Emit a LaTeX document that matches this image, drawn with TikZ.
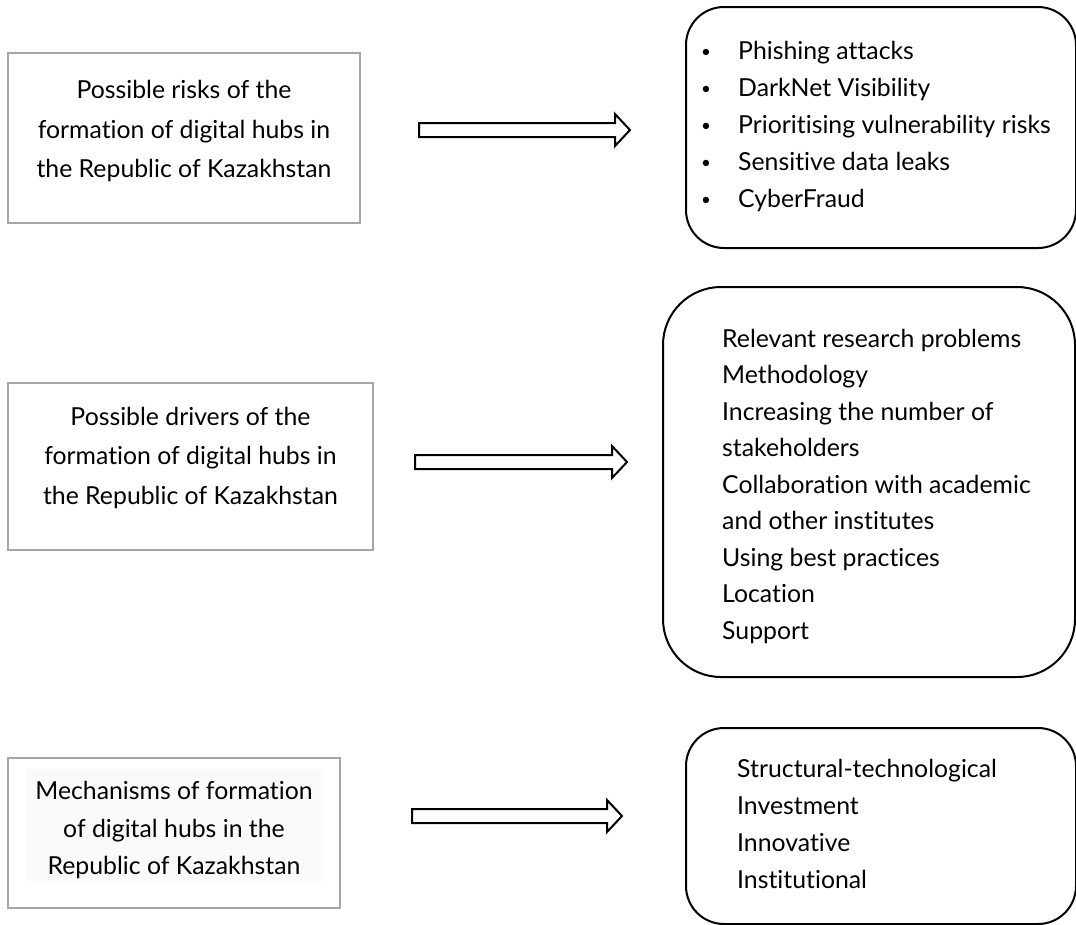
\documentclass[tikz,border=0pt]{standalone}
\usepackage{fontspec}
\setmainfont{Lato}[Ligatures=NoCommon]
\usetikzlibrary{calc}

\tikzset{
	hubbox/.style = {draw=black!35, line width=2.5pt, inner sep=0pt},
	hubtext/.style = {align=center, inner sep=0pt, font=\fontsize{24.8pt}{39.5pt}\selectfont},
	listbox/.style = {draw, line width=2pt, rounded corners=38pt, inner sep=0pt},
	listitem/.style = {anchor=base west, inner sep=0pt, font=\fontsize{24.8pt}{37pt}\selectfont},
	bigarrow/.style = {draw, line width=2pt, fill=white, line join=miter}
}

\begin{document}
\begin{tikzpicture}[x=1pt, y=-1pt]

	\useasboundingbox (0,0) rectangle (1076,924);

% Left boxes.

	\node [hubbox, minimum width=352pt, minimum height=170pt] (risks) at (184, 138) {};
	\node [hubtext, yshift=7pt] (riskstext) at (risks.center)
		{Possible risks of the\\ formation of digital hubs in\\ the Republic of Kazakhstan};

	\node [hubbox, minimum width=365pt, minimum height=167pt] (drivers) at (190.5, 466.5) {};
	\node [hubtext, yshift=9pt] (driverstext) at (drivers.center)
		{Possible drivers of the\\ formation of digital hubs in\\ the Republic of Kazakhstan};

	\node [hubbox, minimum width=332pt, minimum height=150pt] (mechs) at (174, 833) {};
	\fill [black!2] (26, 769) rectangle (323, 881);
	\node [hubtext, font=\fontsize{24.8pt}{37.5pt}\selectfont, yshift=3pt] (mechstext) at (mechs.center)
		{Mechanisms of formation\\ of digital hubs in the\\ Republic of Kazakhstan};

% Right boxes.

	\node [listbox, minimum width=390pt, minimum height=241pt] (risklist) at (881, 127.5) {};
	\node [listbox, rounded corners=58pt, minimum width=412pt, minimum height=390pt] (driverlist) at (869, 482) {};
	\node [listbox, minimum width=390pt, minimum height=196pt] (mechlist) at (881, 826) {};

	% list items
	\foreach \txt [count=\i] in {Phishing attacks, DarkNet Visibility, Prioritising vulnerability risks, Sensitive data leaks, CyberFraud}
	{
		\node [listitem, font=\fontsize{17pt}{17pt}\selectfont] (bullet\i) at (701, {57 + 37*(\i-1)}) {\textbullet};
		\node [listitem] (risk\i) at (738, {59 + 37*(\i-1)}) {\txt};
	}

	\foreach \txt [count=\i] in {Relevant research problems, Methodology, Increasing the number of, stakeholders, Collaboration with academic, and other institutes, Using best practices, Location, Support}
		\node [listitem] (driver\i) at (722, {347 + 36.5*(\i-1)}) {\txt};

	\foreach \txt [count=\i] in {Structural-technological, Investment, Innovative, Institutional}
		\node [listitem] (mech\i) at (737, {777 + 37*(\i-1)}) {\txt};

% Draw arrows.

	\coordinate (tail1) at (419, 130);  \coordinate (tip1) at (630, 130);
	\coordinate (tail2) at (415, 462);  \coordinate (tip2) at (627, 462);
	\coordinate (tail3) at (412, 816);  \coordinate (tip3) at (622, 816);

	\foreach \n in {1,2,3}
		\draw [bigarrow] ($(tail\n)+(0,-7)$) -- ($(tip\n)+(-15,-7)$) -- ($(tip\n)+(-15,-16)$)
			-- (tip\n) -- ($(tip\n)+(-15,16)$) -- ($(tip\n)+(-15,7)$) -- ($(tail\n)+(0,7)$) -- cycle;

\end{tikzpicture}
\end{document}
